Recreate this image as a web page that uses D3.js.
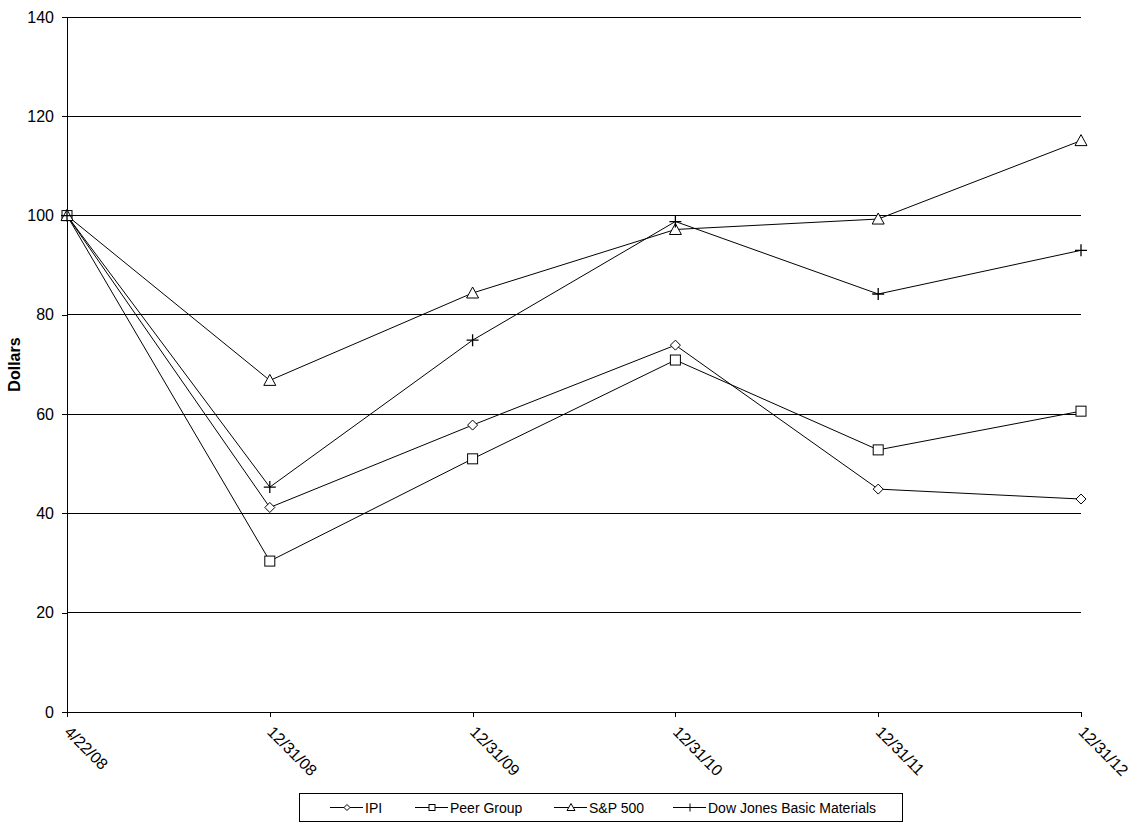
<!DOCTYPE html>
<html><head><meta charset="utf-8">
<script src="https://cdn.jsdelivr.net/npm/d3@7"></script>
<style>body{margin:0;background:#fff;font-family:"Liberation Sans",Arial,sans-serif}</style>
</head><body><svg id="c" width="1137" height="826"></svg>
<script>
const categories = ["4/22/08","12/31/08","12/31/09","12/31/10","12/31/11","12/31/12"];
const ipi = [100, 41.2, 57.8, 73.9, 44.9, 42.9];
const peer = [100, 30.4, 51.0, 70.9, 52.8, 60.6];
const sp500 = [100, 66.8, 84.4, 97.2, 99.3, 115.1];
const djbm = [100, 45.3, 74.9, 98.8, 84.2, 93.0];
const yTicks = [0,20,40,60,80,100,120,140];
const seriesNames = ["IPI","Peer Group","S&P 500","Dow Jones Basic Materials"];
const seriesMarkers = ["diamond","square","triangle","plus"];

const svg = d3.select("#c");
const L=67,R=1081,T=17,B=712;
const x = d3.scalePoint().domain(categories).range([L,R]);
const y = d3.scaleLinear().domain([0,140]).range([B,T]);

// gridlines
svg.append("g").selectAll("line").data(yTicks.filter(d=>d>0)).join("line")
  .attr("x1",L).attr("x2",R).attr("y1",d=>y(d)).attr("y2",d=>y(d))
  .attr("stroke","#000").attr("stroke-width",1).attr("shape-rendering","crispEdges");

// y axis
const ya = svg.append("g").attr("transform",`translate(${L},0)`)
  .call(d3.axisLeft(y).tickValues(yTicks).tickSize(5).tickPadding(8));
ya.select(".domain").attr("stroke","#000").attr("shape-rendering","crispEdges");
ya.selectAll(".tick line").attr("shape-rendering","crispEdges");
ya.selectAll("text").attr("font-size",16).attr("font-family","Liberation Sans, Arial, sans-serif").attr("fill","#000");

// x axis
const xa = svg.append("g").attr("transform",`translate(0,${B})`)
  .call(d3.axisBottom(x).tickSize(5).tickSizeOuter(0));
xa.select(".domain").attr("stroke","#000").attr("shape-rendering","crispEdges");
xa.selectAll(".tick line").attr("shape-rendering","crispEdges");
xa.selectAll("text").attr("font-size",16).attr("font-family","Liberation Sans, Arial, sans-serif").attr("fill","#000")
  .attr("text-anchor","start").attr("dy",null).attr("y",0)
  .attr("transform","translate(-1,18) rotate(45)").attr("dominant-baseline","middle");

// y label
svg.append("text").attr("transform",`translate(20,${(T+B)/2}) rotate(-90)`)
  .attr("text-anchor","middle").attr("font-size",16).attr("font-weight","bold").text("Dollars");

function marker(g, type, cx, cy){
  if(type==="diamond") g.append("path").attr("d",`M${cx},${cy-5}L${cx+5},${cy}L${cx},${cy+5}L${cx-5},${cy}Z`).attr("fill","#fff").attr("stroke","#000");
  else if(type==="square") g.append("rect").attr("x",cx-5).attr("y",cy-5).attr("width",10).attr("height",10).attr("fill","#fff").attr("stroke","#000");
  else if(type==="triangle") g.append("path").attr("d",`M${cx},${cy-6}L${cx+6},${cy+5}L${cx-6},${cy+5}Z`).attr("fill","#fff").attr("stroke","#000");
  else g.append("path").attr("d",`M${cx-6},${cy}H${cx+6}M${cx},${cy-6}V${cy+6}`).attr("stroke","#000").attr("stroke-width",1.3);
}

const all = [ipi,peer,sp500,djbm];
const line = d3.line().x((d,i)=>x(categories[i])).y(d=>y(d));
all.forEach((s,k)=>{
  svg.append("path").datum(s).attr("d",line).attr("fill","none").attr("stroke","#000").attr("stroke-width",1);
});
all.forEach((s,k)=>{
  const g=svg.append("g");
  s.forEach((v,i)=>marker(g,seriesMarkers[k],x(categories[i]),y(v)));
});

// legend
svg.append("rect").attr("x",299.5).attr("y",793.5).attr("width",603).attr("height",28).attr("fill","#fff").attr("stroke","#000");
const legX=[330,415,554,673];
const lg=svg.append("g");
seriesNames.forEach((n,k)=>{
  const lx=legX[k], ly=807.5;
  lg.append("line").attr("x1",lx).attr("x2",lx+33).attr("y1",ly).attr("y2",ly).attr("stroke","#000");
  const m=lg.append("g");
  const cx=lx+17;
  if(seriesMarkers[k]==="diamond") m.append("path").attr("d",`M${cx},${ly-3}L${cx+3},${ly}L${cx},${ly+3}L${cx-3},${ly}Z`).attr("fill","#fff").attr("stroke","#000");
  else if(seriesMarkers[k]==="square") m.append("rect").attr("x",cx-3).attr("y",ly-3).attr("width",6).attr("height",6).attr("fill","#fff").attr("stroke","#000");
  else if(seriesMarkers[k]==="triangle") m.append("path").attr("d",`M${cx},${ly-4}L${cx+4},${ly+3}L${cx-4},${ly+3}Z`).attr("fill","#fff").attr("stroke","#000");
  else m.append("path").attr("d",`M${cx},${ly-4}V${ly+4}`).attr("stroke","#000");
  lg.append("text").attr("x",lx+35).attr("y",ly).attr("dominant-baseline","central").attr("font-size",14).text(n);
});
</script></body></html>
